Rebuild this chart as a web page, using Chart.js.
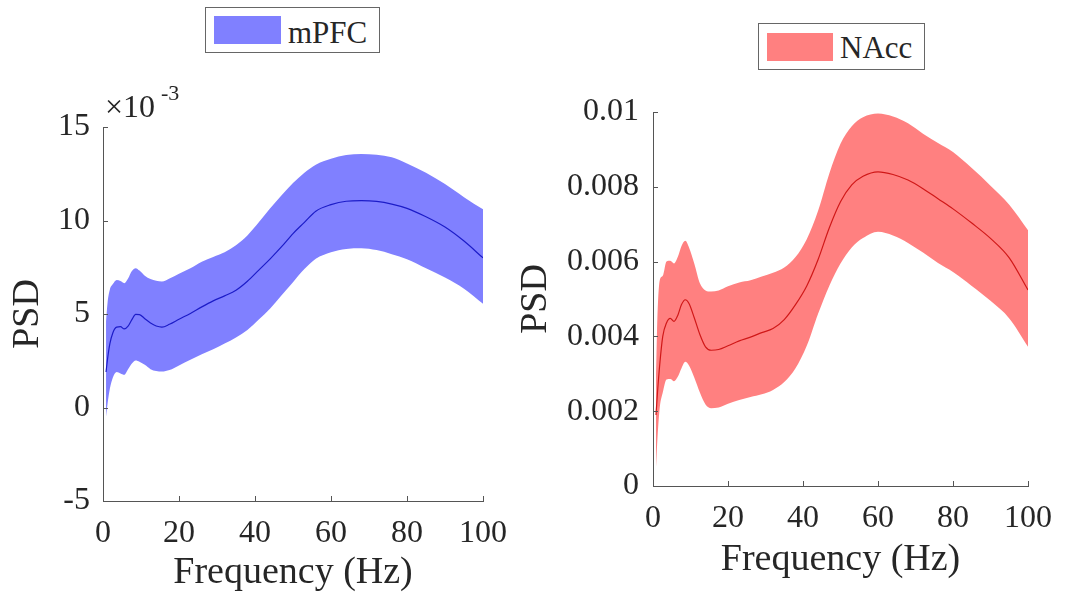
<!DOCTYPE html>
<html>
<head>
<meta charset="utf-8">
<script src="https://cdn.jsdelivr.net/npm/chart.js@4.4.1/dist/chart.umd.min.js"></script>
<style>
body{margin:0;background:#fff;width:1065px;height:611px;position:relative;overflow:hidden;font-family:'Liberation Serif',serif;color:#262626}
.box{position:absolute;top:0}
.legend{position:absolute;border:1.5px solid #666;background:#fff;box-sizing:border-box}
.legend .sw{position:absolute}
.legend span{position:absolute;font-size:31px;line-height:1;white-space:nowrap}
.expo{position:absolute;font-size:32px;line-height:1;white-space:nowrap}
</style>
</head>
<body>

<div class="box" style="left:0;width:540px;height:611px"><canvas id="mpfc-chart" width="540" height="611"></canvas></div>
<div class="box" style="left:500px;width:565px;height:611px"><canvas id="nacc-chart" width="565" height="611"></canvas></div>

<div class="expo" style="left:105px;top:90px">&times;10</div>
<div class="expo" style="left:161px;top:82px;font-size:22px">-3</div>

<div class="legend" style="left:205px;top:7px;width:175px;height:46px">
  <div class="sw" style="left:8px;top:8px;width:67px;height:28px;background:#8080ff"></div>
  <span style="left:82px;top:9px">mPFC</span>
</div>
<div class="legend" style="left:758px;top:23px;width:167px;height:47px">
  <div class="sw" style="left:8px;top:9px;width:66px;height:28px;background:#ff8080"></div>
  <span style="left:81px;top:8px">NAcc</span>
</div>

<script>
// frequency (Hz), shared by both panels
const freq = [0.8, 1.2, 1.8, 2.6, 3.6, 4.6, 5.6, 6.6, 7.6, 8.6, 9.6, 11, 12.5, 14, 15.5, 17.5, 20, 23, 26, 29, 32, 35, 38, 41, 44, 47, 50, 53, 56, 60, 64, 68, 72, 76, 80, 85, 90, 95, 100]

// mPFC PSD, units of 1e-3
const mpfcMean  = [1.9, 2.6, 3.4, 4.0, 4.3, 4.32, 4.2, 4.35, 4.7, 4.98, 4.97, 4.75, 4.52, 4.36, 4.3, 4.45, 4.72, 5.03, 5.38, 5.7, 5.97, 6.27, 6.75, 7.35, 7.95, 8.6, 9.3, 9.9, 10.5, 10.85, 11.03, 11.06, 11.02, 10.88, 10.65, 10.2, 9.65, 8.9, 8.0]
const mpfcUpper = [4.6, 5.6, 6.3, 6.6, 6.82, 6.76, 6.65, 6.9, 7.3, 7.45, 7.32, 7.05, 6.87, 6.78, 6.74, 6.9, 7.15, 7.45, 7.8, 8.05, 8.3, 8.68, 9.2, 9.9, 10.65, 11.35, 12.0, 12.55, 12.98, 13.3, 13.5, 13.56, 13.52, 13.38, 13.05, 12.55, 11.95, 11.25, 10.6]
const mpfcLower = [-0.5, 0.2, 1.0, 1.6, 1.9, 1.82, 1.75, 2.05, 2.35, 2.52, 2.45, 2.28, 2.05, 1.95, 1.92, 2.0, 2.25, 2.55, 2.85, 3.12, 3.42, 3.75, 4.15, 4.7, 5.3, 6.0, 6.7, 7.4, 7.95, 8.3, 8.48, 8.52, 8.42, 8.2, 7.93, 7.45, 6.95, 6.35, 5.55]

// NAcc PSD, units of 1e-3
const naccMean  = [1.9, 2.5, 3.25, 4.0, 4.36, 4.48, 4.4, 4.56, 4.85, 4.98, 4.88, 4.5, 4.05, 3.72, 3.63, 3.65, 3.75, 3.88, 3.98, 4.1, 4.21, 4.45, 4.85, 5.35, 6.05, 6.9, 7.6, 8.05, 8.28, 8.4, 8.33, 8.18, 7.95, 7.68, 7.41, 7.03, 6.62, 6.1, 5.24]
const naccUpper = [3.0, 4.6, 5.5, 5.62, 6.0, 6.02, 5.95, 6.12, 6.42, 6.56, 6.38, 5.95, 5.42, 5.23, 5.2, 5.23, 5.34, 5.44, 5.5, 5.6, 5.7, 5.84, 6.12, 6.6, 7.35, 8.35, 9.15, 9.62, 9.86, 9.96, 9.88, 9.7, 9.42, 9.17, 8.93, 8.5, 8.03, 7.52, 6.84]
const naccLower = [0.5, 1.3, 2.1, 2.5, 2.85, 2.86, 2.8, 2.92, 3.15, 3.32, 3.22, 2.9, 2.5, 2.18, 2.08, 2.1, 2.2, 2.3, 2.38, 2.45, 2.57, 2.78, 3.15, 3.75, 4.6, 5.35, 5.95, 6.38, 6.63, 6.8, 6.7, 6.5, 6.24, 5.96, 5.72, 5.35, 4.95, 4.48, 3.72]

const xTicks = [0, 20, 40, 60, 80, 100]
const mpfcYTicks = [-5, 0, 5, 10, 15]
const naccYTicks = [0, 2, 4, 6, 8, 10]   // 1e-3

const fontFamily = "Liberation Serif"
const axisColor = '#555'

function pts(ys){
    return freq.map((f, i) => ({x: f, y: ys[i]}))
}

// matlab style tick marks, pointing into the plot
const innerTicks = {
    id: 'innerTicks',
    afterDraw(chart){
        const {ctx, chartArea, scales} = chart
        ctx.save()
        ctx.strokeStyle = axisColor
        ctx.lineWidth = 1
        ctx.beginPath()
        scales.x.ticks.forEach(t => {
            let px = Math.round(scales.x.getPixelForValue(t.value)) + 0.5
            ctx.moveTo(px, chartArea.bottom)
            ctx.lineTo(px, chartArea.bottom - 5)
        })
        scales.y.ticks.forEach(t => {
            let py = Math.round(scales.y.getPixelForValue(t.value)) + 0.5
            ctx.moveTo(chartArea.left, py)
            ctx.lineTo(chartArea.left + 5, py)
        })
        ctx.stroke()
        ctx.restore()
    }
}

function psdChart(canvas, mean, upper, lower, lineColor, bandColor, cfg){
    const tickFont = {family: fontFamily, size: 32}
    const titleFont = {family: fontFamily, size: 38, lineHeight: 1.2}
    return new Chart(canvas, {
        type: 'line',
        data: {
            datasets: [
                {data: pts(mean), borderColor: lineColor, borderWidth: 1.2, fill: false},
                {data: pts(upper), borderWidth: 0, borderColor: 'rgba(0,0,0,0)', fill: false},
                {data: pts(lower), borderWidth: 0, borderColor: 'rgba(0,0,0,0)', backgroundColor: bandColor, fill: '-1'}
            ]
        },
        options: {
            responsive: false,
            animation: false,
            layout: {padding: cfg.padding},
            elements: {point: {radius: 0}, line: {cubicInterpolationMode: 'monotone'}},
            plugins: {legend: {display: false}, tooltip: {enabled: false}},
            scales: {
                x: {
                    type: 'linear', min: 0, max: 100,
                    afterBuildTicks: s => { s.ticks = xTicks.map(v => ({value: v})) },
                    afterFit: s => { s.height = cfg.xHeight },
                    grid: {display: false, drawTicks: false},
                    border: {color: axisColor, width: 1},
                    ticks: {padding: 13, maxRotation: 0, font: tickFont, color: '#262626'},
                    title: {display: true, text: 'Frequency (Hz)', font: titleFont, color: '#262626', padding: {top: 0, bottom: cfg.xTitlePad}}
                },
                y: {
                    min: cfg.yTicks[0], max: cfg.yTicks[cfg.yTicks.length - 1],
                    afterBuildTicks: s => { s.ticks = cfg.yTicks.map(v => ({value: v})) },
                    afterFit: s => { s.width = cfg.yWidth },
                    grid: {display: false, drawTicks: false},
                    border: {color: axisColor, width: 1},
                    ticks: {padding: cfg.yPad, font: tickFont, color: '#262626', callback: cfg.yLabel},
                    title: {display: true, text: 'PSD', font: titleFont, color: '#262626', padding: {top: cfg.yTitlePad, bottom: 0}}
                }
            }
        },
        plugins: [innerTicks]
    })
}

psdChart(document.getElementById('mpfc-chart'), mpfcMean, mpfcUpper, mpfcLower, '#1c1cc8', '#8080ff', {
    padding: {left: 0, top: 127, right: 57, bottom: 0},
    xHeight: 110, yWidth: 103, xTitlePad: 15, yTitlePad: 5, yPad: 13,
    yTicks: mpfcYTicks,
    yLabel: v => String(v)
})

psdChart(document.getElementById('nacc-chart'), naccMean, naccUpper, naccLower, '#d01818', '#ff8080', {
    padding: {left: 0, top: 112, right: 35, bottom: 0},
    xHeight: 125, yWidth: 153, xTitlePad: 28, yTitlePad: 13, yPad: 14,
    yTicks: naccYTicks,
    yLabel: v => v == 0 ? '0' : String(+(v / 1000).toFixed(3))
})
</script>
</body>
</html>
